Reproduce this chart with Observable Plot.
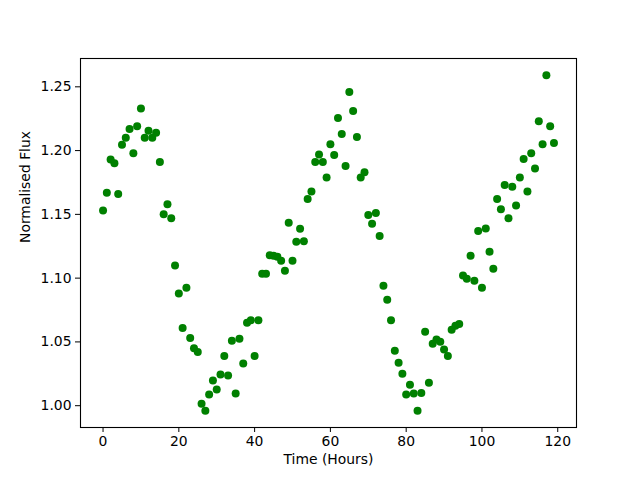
<!DOCTYPE html>
<html>
<head>
<meta charset="utf-8">
<script src="https://cdn.jsdelivr.net/npm/d3@7"></script>
<script src="https://cdn.jsdelivr.net/npm/@observablehq/plot@0.6"></script>
<style>
  html, body { margin: 0; padding: 0; background: #fff; }
  #chart { width: 640px; height: 480px; }
</style>
</head>
<body>
<div id="chart"></div>
<script>
const hours = d3.range(0, 120);
const flux = [
  1.153, 1.167, 1.193, 1.190, 1.166, 1.2045, 1.210, 1.217, 1.198, 1.219,
  1.233, 1.210, 1.2155, 1.210, 1.214, 1.191, 1.150, 1.158, 1.147, 1.110,
  1.088, 1.061, 1.0925, 1.053, 1.045, 1.042, 1.0016, 0.996, 1.0087, 1.0197,
  1.0126, 1.0244, 1.039, 1.0236, 1.051, 1.0095, 1.0525, 1.033, 1.065, 1.067,
  1.039, 1.067, 1.1034, 1.1034, 1.118, 1.1175, 1.1168, 1.1136, 1.1058, 1.1434,
  1.1136, 1.1285, 1.1387, 1.129, 1.162, 1.168, 1.191, 1.197, 1.191, 1.179,
  1.205, 1.1966, 1.2256, 1.213, 1.188, 1.246, 1.231, 1.2107, 1.179, 1.183,
  1.1496, 1.1426, 1.151, 1.133, 1.094, 1.083, 1.067, 1.043, 1.0337, 1.025,
  1.0087, 1.0165, 1.0095, 0.996, 1.010, 1.058, 1.018, 1.0486, 1.0518, 1.0502,
  1.044, 1.039, 1.0596, 1.0627, 1.064, 1.102, 1.0995, 1.1175, 1.098, 1.137,
  1.0925, 1.139, 1.1207, 1.1074, 1.162, 1.154, 1.173, 1.147, 1.1716, 1.157,
  1.179, 1.1935, 1.168, 1.198, 1.186, 1.223, 1.205, 1.259, 1.219, 1.206
];
const xTicks = [0, 20, 40, 60, 80, 100, 120];
const yTicks = [1.00, 1.05, 1.10, 1.15, 1.20, 1.25];
const xLabel = "Time (Hours)";
const yLabel = "Normalised Flux";

const data = hours.map((t, i) => ({t, f: flux[i]}));

const chart = Plot.plot({
  width: 640,
  height: 480,
  marginLeft: 80,
  marginRight: 64,
  marginTop: 58,
  marginBottom: 53,
  style: {fontFamily: "DejaVu Sans", fontSize: "13.9px", color: "black", background: "white"},
  x: {domain: [-5.95, 124.95]},
  y: {domain: [0.9829, 1.2722]},
  marks: [
    Plot.axisX({ticks: xTicks, tickSize: 5, tickPadding: 4, label: null, fontSize: 13.9, stroke: "black"}),
    Plot.axisY({ticks: yTicks, tickSize: 5, tickPadding: 4, label: null, tickFormat: d3.format(".2f"), fontSize: 13.9, stroke: "black"}),
    Plot.dot(data, {x: "t", y: "f", r: 4, fill: "green", stroke: null}),
    Plot.frame({stroke: "black", strokeWidth: 1.1}),
    Plot.text([xLabel], {frameAnchor: "bottom", dy: 36, fontSize: 13.9, fill: "black"}),
    Plot.text([yLabel], {frameAnchor: "left", dx: -55, rotate: -90, fontSize: 13.9, fill: "black"})
  ]
});
document.getElementById("chart").appendChild(chart);
</script>
</body>
</html>
